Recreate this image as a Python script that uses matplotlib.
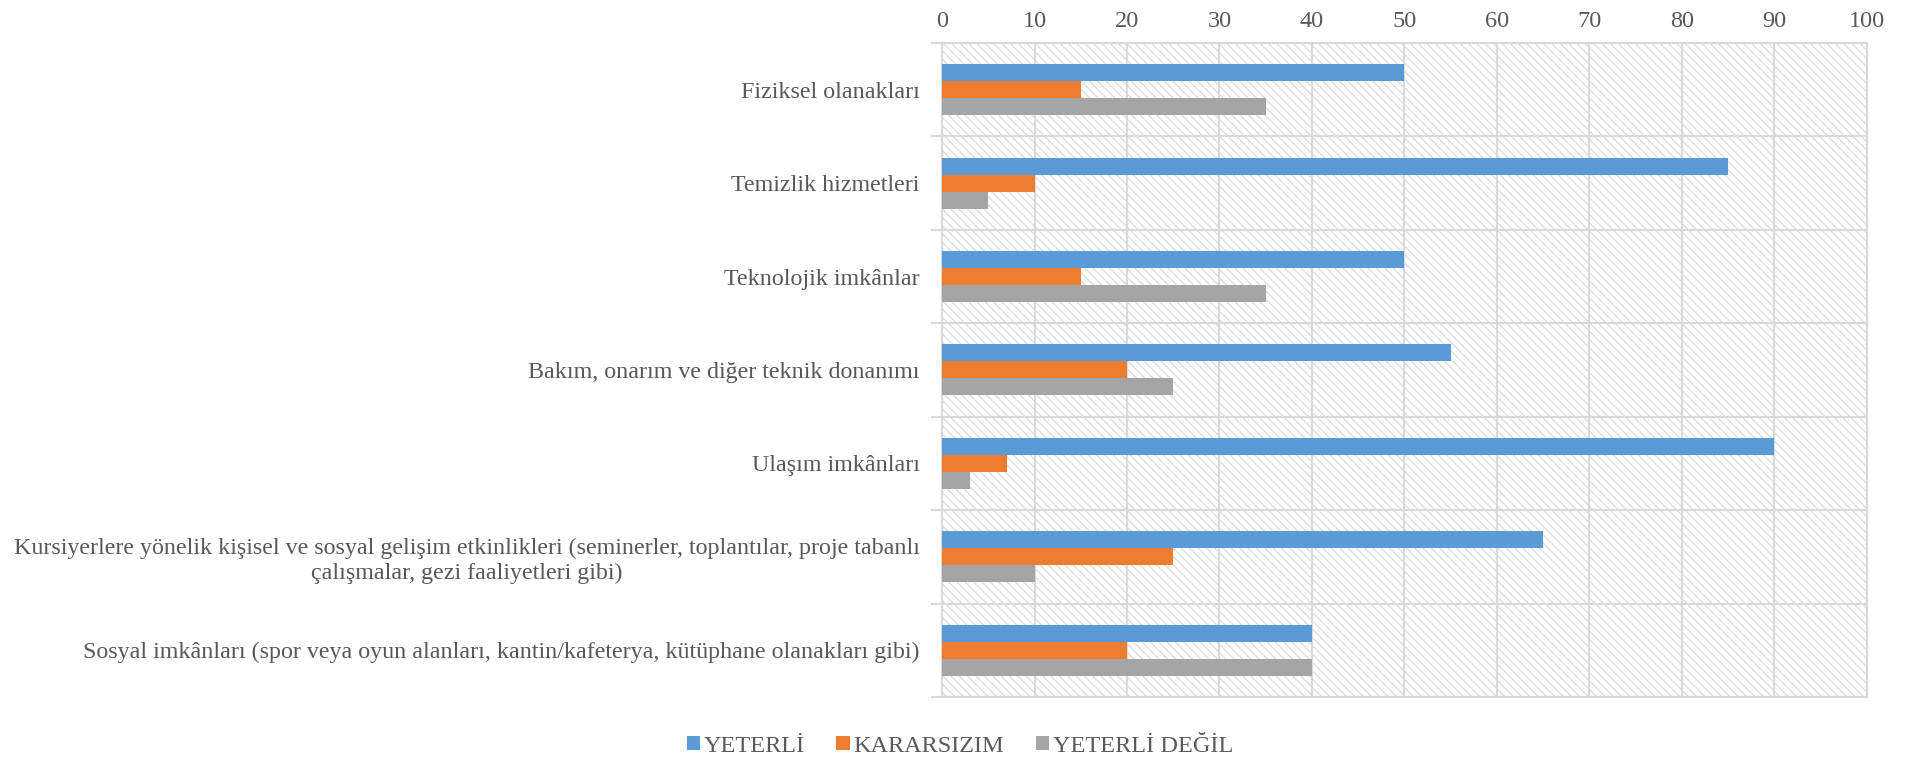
import matplotlib
matplotlib.use('Agg')
import matplotlib.pyplot as plt
from matplotlib.patches import Rectangle
import numpy as np

# ---- Data ----
categories = [
    'Fiziksel olanakları',
    'Temizlik hizmetleri',
    'Teknolojik imkânlar',
    'Bakım, onarım ve diğer teknik donanımı',
    'Ulaşım imkânları',
    'Kursiyerlere yönelik kişisel ve sosyal gelişim etkinlikleri (seminerler, toplantılar, proje tabanlı\nçalışmalar, gezi faaliyetleri gibi)',
    'Sosyal imkânları (spor veya oyun alanları, kantin/kafeterya, kütüphane olanakları gibi)',
]
series_names = ['YETERLİ', 'KARARSIZIM', 'YETERLİ DEĞİL']
yeterli    = [50, 85, 50, 55, 90, 65, 40]
kararsizim = [15, 10, 15, 20, 7, 25, 20]
yeterli_degil = [35, 5, 35, 25, 3, 10, 40]
x_ticks = list(range(0, 101, 10))

colors = ['#5B9BD5', '#ED7D31', '#A5A5A5']
grid_c = '#D9D9D9'
text_c = '#595959'

plt.rcParams['font.family'] = ['Liberation Serif', 'DejaVu Serif']
plt.rcParams['hatch.color'] = '#DEDEDE'
plt.rcParams['hatch.linewidth'] = 1.0

fig = plt.figure(figsize=(19.12, 7.67), dpi=100)
ax = fig.add_axes([0.4927, 0.0913, 0.9763 - 0.4927, 0.944 - 0.0913])

# hatched plot area background
ax.add_patch(Rectangle((0, 0), 1, 1, transform=ax.transAxes, facecolor='white',
                       edgecolor='#DEDEDE', hatch='\\\\\\\\', lw=0, zorder=0))

n = len(categories)
y = np.arange(n)
h = 0.182
for i, (vals, name) in enumerate(zip([yeterli, kararsizim, yeterli_degil], series_names)):
    ax.barh(y + (i - 1) * h, vals, height=h, color=colors[i], label=name, zorder=3)

ax.set_xlim(0, 100)
ax.set_ylim(n - 0.5, -0.5)
ax.set_xticks(x_ticks)
ax.xaxis.tick_top()
ax.tick_params(axis='x', length=0, pad=8, labelsize=17.5, labelcolor=text_c)
ax.grid(axis='x', color=grid_c, lw=1.5, zorder=1)

ax.set_yticks(y)
ax.set_yticklabels(categories, fontsize=17.3, color=text_c, ha='right',
                   multialignment='center')
ax.set_yticks(np.arange(-0.5, n, 1.0), minor=True)
ax.tick_params(axis='y', which='major', length=0, pad=16)
ax.tick_params(axis='y', which='minor', length=8, width=1.5, color=grid_c, direction='out')
ax.grid(axis='y', which='minor', color=grid_c, lw=1.5, zorder=1)

for s in ax.spines.values():
    s.set_color(grid_c)
    s.set_linewidth(1.5)

leg = fig.legend(loc='lower center', bbox_to_anchor=(0.502, -0.015), ncol=3, frameon=False,
                 fontsize=17.5, handlelength=0.55, handleheight=0.55, handletextpad=0.15,
                 columnspacing=1.3)
for t in leg.get_texts():
    t.set_color(text_c)

fig.savefig('out.png', dpi=100)
